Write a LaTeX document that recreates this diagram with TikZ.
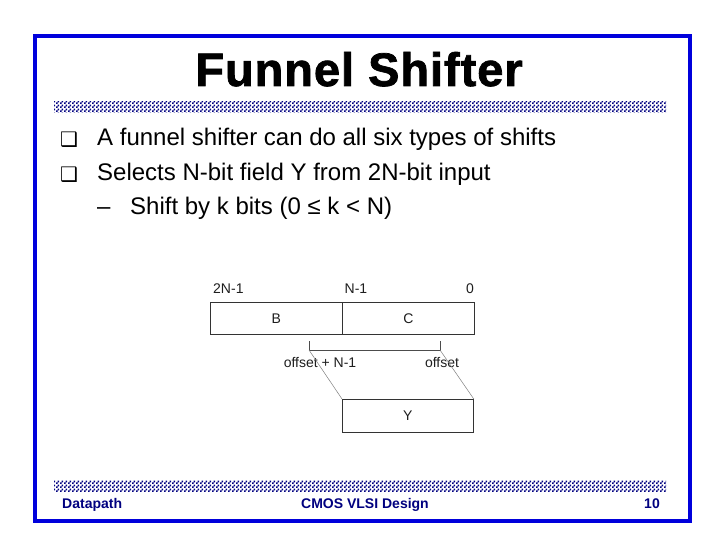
\documentclass[tikz,border=0pt]{standalone}
\usepackage{fontspec}
\setmainfont{Liberation Sans}
\newfontfamily\dingfont{DejaVu Sans}
\newfontfamily\titlefont[FakeBold=1.6,LetterSpace=2]{Liberation Sans Bold}
\usetikzlibrary{patterns}
\pgfdeclarepatternformonly{checker}{\pgfpointorigin}{\pgfqpoint{4bp}{4bp}}{\pgfqpoint{4bp}{4bp}}{%
  \pgfpathrectangle{\pgfpointorigin}{\pgfqpoint{2bp}{2bp}}%
  \pgfpathrectangle{\pgfqpoint{2bp}{2bp}}{\pgfqpoint{2bp}{2bp}}%
  \pgfusepath{fill}}
\definecolor{frameblue}{RGB}{0,0,220}
\definecolor{navyc}{RGB}{0,0,128}
\definecolor{labgray}{RGB}{30,30,30}
\tikzset{
  txt/.style={inner sep=0pt, anchor=base west},
  bodytext/.style={txt, font=\fontsize{24bp}{28bp}\selectfont},
  bulletmark/.style={txt, font=\dingfont\fontsize{20bp}{24bp}\selectfont},
  footer/.style={inner sep=0pt, anchor=base, text=navyc, font=\bfseries\fontsize{14bp}{16bp}\selectfont},
  lab/.style={inner sep=0pt, text=labgray, font=\fontsize{14bp}{16bp}\selectfont},
  field/.style={draw=black!80, line width=0.8bp, minimum height=32bp, inner sep=0pt, anchor=north west, text=labgray, font=\fontsize{14bp}{16bp}\selectfont},
  bar/.style={pattern=checker, pattern color=navyc},
  guide/.style={draw=gray, line width=0.5bp},
}
\begin{document}
\begin{tikzpicture}[x=1bp,y=-1bp]
\useasboundingbox (0,0) rectangle (720,540);
\fill[white] (0,0) rectangle (720,540);
% frame
\draw[frameblue, line width=4bp] (35,36) rectangle (690,521);
% title
\node[inner sep=0pt, anchor=base, font=\titlefont\fontsize{47bp}{54bp}\selectfont] (title) at (359,86) {Funnel Shifter};
% bars
\fill[bar] (54,102) rectangle (666,113);
\fill[bar] (54,480) rectangle (666,491);
% bullets
\node[bulletmark] (b1) at (60,147) {❑};
\node[bodytext] (t1) at (97,146) {A funnel shifter can do all six types of shifts};
\node[bulletmark] (b2) at (60,182) {❑};
\node[bodytext] (t2) at (97,181) {Selects N-bit field Y from 2N-bit input};
\node[bodytext] (d3) at (97,215) {–};
\node[bodytext] (t3) at (130,215) {Shift by k bits (0 ≤ k < N)};
% diagram
\node[field, minimum width=132bp] (B) at (210,302) {B};
\node[field, minimum width=132bp] (C) at (342,302) {C};
\node[lab, anchor=base west] (l2n) at (213,293) {2N-1};
\node[lab, anchor=base] (ln1) at (356,293) {N-1};
\node[lab, anchor=base east] (l0) at (474,293) {0};
\coordinate (bl) at (309,341);
\coordinate (blb) at (309,350);
\coordinate (br) at (440,341);
\coordinate (brb) at (440,350);
\draw[guide, draw=black!70] (bl) -- (blb) -- (brb) -- (br);
\node[lab, anchor=base] (loff1) at (320,367) {offset + N-1};
\node[lab, anchor=base] (loff0) at (442,367) {offset};
\node[field, minimum width=131bp, minimum height=33bp] (Y) at (342,399) {Y};
\draw[guide] (blb) -- (Y.north west);
\draw[guide] (brb) -- (Y.north east);
% footer
\node[footer, anchor=base west] (f1) at (62,508) {Datapath};
\node[footer] (f2) at (365,508) {CMOS VLSI Design};
\node[footer, anchor=base east] (f3) at (660,508) {10};
\end{tikzpicture}
\end{document}
